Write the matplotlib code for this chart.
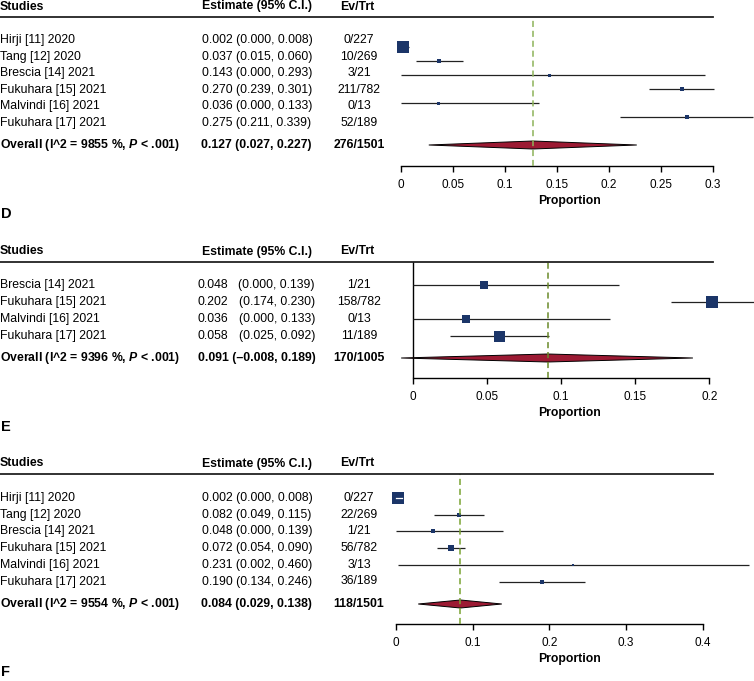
import numpy as np
import matplotlib.pyplot as plt

plt.rcParams['font.family'] = ['Liberation Sans', 'DejaVu Sans']
plt.rcParams['mathtext.fontset'] = 'custom'
plt.rcParams['mathtext.bfit'] = 'Liberation Sans:bold:italic'
plt.rcParams['mathtext.it'] = 'Liberation Sans:italic'

# ---- data ----
D_studies = ["Hirji [11] 2020", "Tang [12] 2020", "Brescia [14] 2021",
             "Fukuhara [15] 2021", "Malvindi [16] 2021", "Fukuhara [17] 2021"]
D_est = [0.002, 0.037, 0.143, 0.270, 0.036, 0.275]
D_lo = [0.000, 0.015, 0.000, 0.239, 0.000, 0.211]
D_hi = [0.008, 0.060, 0.293, 0.301, 0.133, 0.339]
D_ev = ["0/227", "10/269", "3/21", "211/782", "0/13", "52/189"]
D_weight = [12, 5, 3, 5, 3, 4]
D_overall = [0.127, 0.027, 0.227]
D_overall_ev = "276/1501"
D_i2 = "9855"
D_ticks = [0, 0.05, 0.1, 0.15, 0.2, 0.25, 0.3]
D_ticklabels = ["0", "0.05", "0.1", "0.15", "0.2", "0.25", "0.3"]

E_studies = ["Brescia [14] 2021", "Fukuhara [15] 2021", "Malvindi [16] 2021",
             "Fukuhara [17] 2021"]
E_est = [0.048, 0.202, 0.036, 0.058]
E_lo = [0.000, 0.174, 0.000, 0.025]
E_hi = [0.139, 0.230, 0.133, 0.092]
E_ev = ["1/21", "158/782", "0/13", "11/189"]
E_weight = [7.5, 11.5, 7.5, 11]
E_overall = [0.091, -0.008, 0.189]
E_overall_ev = "170/1005"
E_i2 = "9396"
E_ticks = [0, 0.05, 0.1, 0.15, 0.2]
E_ticklabels = ["0", "0.05", "0.1", "0.15", "0.2"]

F_studies = ["Hirji [11] 2020", "Tang [12] 2020", "Brescia [14] 2021",
             "Fukuhara [15] 2021", "Malvindi [16] 2021", "Fukuhara [17] 2021"]
F_est = [0.002, 0.082, 0.048, 0.072, 0.231, 0.190]
F_lo = [0.000, 0.049, 0.000, 0.054, 0.002, 0.134]
F_hi = [0.008, 0.115, 0.139, 0.090, 0.460, 0.246]
F_ev = ["0/227", "22/269", "1/21", "56/782", "3/13", "36/189"]
F_weight = [12, 4.5, 3.5, 6, 2, 4]
F_overall = [0.084, 0.029, 0.138]
F_overall_ev = "118/1501"
F_i2 = "9554"
F_ticks = [0, 0.1, 0.2, 0.3, 0.4]
F_ticklabels = ["0", "0.1", "0.2", "0.3", "0.4"]

W, H = 754, 681
fig = plt.figure(figsize=(W / 100, H / 100), dpi=100)

BOX = '#1b3568'
DIAMOND = '#9c1a33'
FS = 8.8


def fmt(v):
    s = f"{abs(v):.3f}"
    return ("\u2013" + s) if v < 0 else s


def fx(px):
    return px / W


def fy(px):
    return 1 - px / H


def panel(letter, studies, est, lo, hi, ev, weight, overall, overall_ev, i2,
          ticks, ticklabels, header_px, text_row1, text_step, plot_row1, plot_step,
          overall_px, axis_px, px0, scale, letter_px, line_color,
          split_est=False, left_spine=False):
    L = 385
    row = lambda p: (p - plot_row1) / plot_step
    ax = fig.add_axes([L / W, 1 - axis_px / H, (W - L) / W, (axis_px - header_px) / H])
    ax.set_xlim((L - px0) / scale, (W - px0) / scale)
    ax.set_ylim(row(axis_px), row(header_px))
    ax.patch.set_alpha(0)
    for s in ['top', 'right', 'left']:
        ax.spines[s].set_visible(False)
    ax.spines['bottom'].set_bounds(ticks[0], ticks[-1])
    ax.spines['bottom'].set_linewidth(1.0)
    ax.set_xticks(ticks)
    ax.set_xticklabels(ticklabels, fontsize=8.5)
    ax.tick_params(axis='x', direction='out', length=4, width=1, pad=5)
    ax.set_yticks([])
    ax.set_xlabel("Proportion", fontsize=FS, fontweight='bold', labelpad=3)
    if left_spine:
        ax.axvline(0, color='black', lw=1.0)

    ys = np.arange(len(studies))
    oy = row(overall_px)
    # study rows
    for y, e, l, h, w in zip(ys, est, lo, hi, weight):
        ax.plot([l, h], [y, y], color='#222222', lw=0.9, solid_capstyle='butt')
        ax.scatter([e], [y], marker='s', s=(w * 0.72) ** 2, color=BOX, lw=0, zorder=3)
        half = (w / 2) / scale
        if l >= e - half and h <= e + half:
            ax.plot([l, h], [y, y], color='white', lw=0.9, zorder=4)
    # overall diamond
    e, l, h = overall
    dh = 4 / plot_step
    ax.fill([l, e, h, e], [oy, oy - dh, oy, oy + dh], facecolor=DIAMOND,
            edgecolor='black', lw=0.7, zorder=3)
    ax.vlines(e, row(axis_px), row(header_px), color=line_color, lw=1.1,
              linestyles=(0, (4, 2.5)), zorder=5)

    # table header
    hy = fy(header_px - 10.5)
    fig.text(0, hy, "Studies", fontsize=FS, fontweight='bold', va='center')
    fig.text(fx(257), hy, "Estimate (95% C.I.)", fontsize=FS, fontweight='bold',
             va='center', ha='center')
    fig.text(fx(357), hy, "Ev/Trt", fontsize=FS, fontweight='bold',
             va='center', ha='center')
    fig.add_artist(plt.Line2D([0, fx(713)], [fy(header_px)] * 2, color='#222222',
                              lw=1.3, transform=fig.transFigure))

    # table rows
    for i, (name, e_, l_, h_, ev_) in enumerate(zip(studies, est, lo, hi, ev)):
        ty = fy(text_row1 + i * text_step)
        fig.text(0, ty, name, fontsize=FS, va='center')
        if split_est:
            fig.text(fx(198), ty, fmt(e_), fontsize=FS, va='center')
            fig.text(fx(315), ty, f"({fmt(l_)}, {fmt(h_)})", fontsize=FS,
                     va='center', ha='right')
        else:
            fig.text(fx(257), ty, f"{fmt(e_)} ({fmt(l_)}, {fmt(h_)})", fontsize=FS,
                     va='center', ha='center')
        fig.text(fx(359), ty, ev_, fontsize=FS, va='center', ha='center')

    ty = fy(overall_px)
    fig.text(0, ty, "Overall (I^2 = " + i2 + r" %, $\mathbfit{P}$ < .001)",
             fontsize=FS, fontweight='bold', va='center')
    fig.text(fx(256.5), ty, f"{fmt(e)} ({fmt(l)}, {fmt(h)})", fontsize=FS,
             fontweight='bold', va='center', ha='center')
    fig.text(fx(359), ty, overall_ev, fontsize=FS, fontweight='bold',
             va='center', ha='center')

    fig.text(fx(1), fy(letter_px), letter, fontsize=10.5, fontweight='bold',
             va='center', ha='left')


panel("D", D_studies, D_est, D_lo, D_hi, D_ev, D_weight, D_overall, D_overall_ev,
      D_i2, D_ticks, D_ticklabels, header_px=17, text_row1=40, text_step=16.6,
      plot_row1=46.6, plot_step=14.1, overall_px=145, axis_px=166,
      px0=400.7, scale=1040, letter_px=213.5, line_color='#8db35a')
panel("E", E_studies, E_est, E_lo, E_hi, E_ev, E_weight, E_overall, E_overall_ev,
      E_i2, E_ticks, E_ticklabels, header_px=262, text_row1=285, text_step=17,
      plot_row1=285.3, plot_step=16.9, overall_px=358, axis_px=378,
      px0=413, scale=1481, letter_px=427, line_color='#6a8a2a',
      split_est=True, left_spine=True)
panel("F", F_studies, F_est, F_lo, F_hi, F_ev, F_weight, F_overall, F_overall_ev,
      F_i2, F_ticks, F_ticklabels, header_px=474, text_row1=498, text_step=16.7,
      plot_row1=497.7, plot_step=16.8, overall_px=604, axis_px=624,
      px0=396, scale=766.7, letter_px=672, line_color='#79a332')

fig.savefig("out.png", dpi=100)
